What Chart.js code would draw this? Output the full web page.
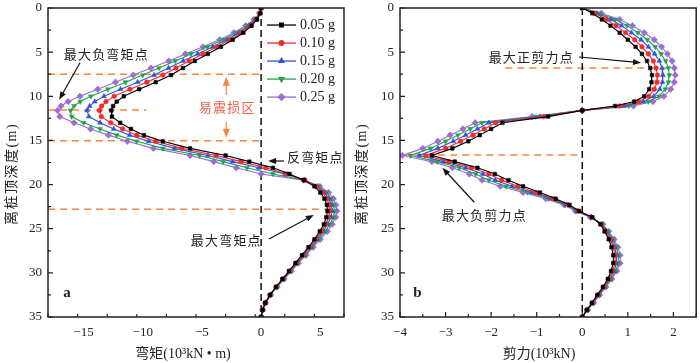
<!DOCTYPE html>
<html><head><meta charset="utf-8">
<script src="https://cdn.jsdelivr.net/npm/chart.js@4.4.0/dist/chart.umd.min.js"></script>
<style>
html,body{margin:0;padding:0;background:#fff;}
#wrap{position:relative;width:700px;height:363px;overflow:hidden;}
.c{position:absolute;top:0;width:350px;height:363px;}
</style></head><body>
<div id="wrap">
<div class="c" style="left:0"><canvas id="ca"></canvas></div>
<div class="c" style="left:350px"><canvas id="cb"></canvas></div>
</div>
<script>
// ---------- data ----------
const depth = [0, 0.6, 1.3, 2.0, 2.8, 3.6, 4.4, 5.2, 6.0, 6.8, 7.6, 8.4, 9.2, 10.0, 10.6, 11.1, 11.6, 12.3, 13.0, 13.7, 14.4, 15.1, 15.9, 16.7, 17.4, 18.1, 18.8, 19.5, 20.2, 20.9, 21.6, 22.3, 23.0, 23.7, 24.5, 25.3, 26.2, 27.1, 28.0, 28.9, 29.8, 30.7, 31.6, 32.5, 33.4, 34.2, 35.0];
const seriesLabels = ['0.05 g', '0.10 g', '0.15 g', '0.20 g', '0.25 g'];

const moment005 = [0, -0.07, -0.35, -0.8, -1.5, -2.4, -3.4, -4.5, -5.6, -6.6, -7.6, -8.9, -10.3, -11.6, -12.2, -12.5, -12.65, -12.6, -11.9, -11.0, -9.9, -8.3, -6.0, -3.0, -1.0, 1.0, 2.4, 3.6, 4.5, 5.0, 5.35, 5.55, 5.6, 5.5, 5.3, 4.95, 4.5, 4.0, 3.45, 2.9, 2.35, 1.8, 1.25, 0.75, 0.35, 0.12, 0];
const moment010 = [0, -0.09, -0.41, -0.91, -1.68, -2.64, -3.73, -4.92, -6.08, -7.19, -8.3, -9.65, -11.07, -12.41, -13.1, -13.47, -13.65, -13.5, -12.7, -11.7, -10.5, -8.9, -6.7, -3.8, -1.7, 0.4, 2.2, 3.7, 4.65, 5.2, 5.55, 5.75, 5.8, 5.7, 5.45, 5.1, 4.6, 4.1, 3.55, 2.95, 2.4, 1.83, 1.27, 0.76, 0.35, 0.12, 0];
const moment015 = [0, -0.11, -0.46, -1.03, -1.86, -2.9, -4.08, -5.36, -6.59, -7.82, -9.04, -10.43, -11.88, -13.27, -14.05, -14.48, -14.7, -14.55, -13.6, -12.45, -11.1, -9.5, -7.3, -4.5, -2.4, -0.2, 2.0, 3.7, 4.75, 5.35, 5.72, 5.92, 6.0, 5.9, 5.6, 5.25, 4.72, 4.2, 3.62, 3.0, 2.44, 1.86, 1.29, 0.77, 0.36, 0.12, 0];
const moment020 = [0, -0.13, -0.54, -1.18, -2.1, -3.23, -4.53, -5.93, -7.25, -8.63, -10.0, -11.45, -12.93, -14.38, -15.28, -15.8, -16.1, -16.0, -15.0, -13.6, -12.2, -10.5, -8.3, -5.2, -3.2, -1.2, 1.0, 3.65, 4.85, 5.5, 5.9, 6.12, 6.2, 6.1, 5.8, 5.42, 4.86, 4.3, 3.7, 3.06, 2.5, 1.9, 1.32, 0.78, 0.37, 0.13, 0];
const moment025 = [0, -0.15, -0.6, -1.3, -2.3, -3.5, -4.9, -6.4, -7.8, -9.3, -10.8, -12.3, -13.8, -15.3, -16.3, -16.9, -17.2, -17.0, -15.8, -14.4, -12.9, -11.3, -9.1, -6.0, -4.0, -2.1, 0.0, 3.6, 4.95, 5.7, 6.1, 6.32, 6.4, 6.3, 6.0, 5.6, 5.0, 4.4, 3.8, 3.15, 2.55, 1.95, 1.35, 0.8, 0.38, 0.13, 0];

const shear005 = [0, 0.22, 0.43, 0.62, 0.82, 1.0, 1.17, 1.31, 1.42, 1.49, 1.53, 1.52, 1.47, 1.36, 1.14, 0.72, 0, -0.75, -1.75, -2.0, -2.25, -2.5, -2.85, -3.3, -2.8, -2.3, -1.92, -1.62, -1.3, -0.93, -0.58, -0.28, -0.07, 0.22, 0.4, 0.49, 0.58, 0.64, 0.68, 0.68, 0.63, 0.56, 0.45, 0.33, 0.21, 0.1, 0];
const shear010 = [0, 0.27, 0.53, 0.74, 0.95, 1.15, 1.31, 1.45, 1.56, 1.62, 1.65, 1.64, 1.58, 1.46, 1.24, 0.82, 0, -0.85, -1.9, -2.15, -2.4, -2.67, -3.0, -3.44, -2.93, -2.43, -2.05, -1.77, -1.42, -1.02, -0.63, -0.31, -0.09, 0.21, 0.41, 0.51, 0.61, 0.68, 0.72, 0.72, 0.66, 0.58, 0.47, 0.34, 0.22, 0.1, 0];
const shear015 = [0, 0.32, 0.63, 0.86, 1.08, 1.29, 1.45, 1.59, 1.69, 1.75, 1.77, 1.76, 1.70, 1.57, 1.34, 0.92, 0, -0.93, -2.05, -2.3, -2.56, -2.83, -3.17, -3.58, -3.05, -2.56, -2.18, -1.91, -1.54, -1.11, -0.68, -0.34, -0.11, 0.2, 0.42, 0.53, 0.64, 0.71, 0.75, 0.75, 0.7, 0.6, 0.49, 0.36, 0.23, 0.11, 0];
const shear020 = [0, 0.37, 0.72, 0.98, 1.22, 1.43, 1.60, 1.73, 1.83, 1.89, 1.91, 1.89, 1.82, 1.68, 1.45, 1.02, 0, -1.02, -2.2, -2.46, -2.73, -3.0, -3.33, -3.77, -3.18, -2.7, -2.34, -2.05, -1.67, -1.2, -0.74, -0.37, -0.13, 0.19, 0.44, 0.56, 0.67, 0.75, 0.79, 0.79, 0.73, 0.63, 0.5, 0.37, 0.24, 0.11, 0];
const shear025 = [0, 0.42, 0.82, 1.1, 1.36, 1.58, 1.74, 1.87, 1.97, 2.02, 2.04, 2.02, 1.94, 1.79, 1.55, 1.12, 0, -1.1, -2.35, -2.62, -2.9, -3.17, -3.5, -3.95, -3.3, -2.85, -2.48, -2.2, -1.8, -1.3, -0.8, -0.4, -0.15, 0.18, 0.45, 0.58, 0.7, 0.78, 0.83, 0.83, 0.76, 0.65, 0.52, 0.38, 0.25, 0.12, 0];

const momentTicks = [-15, -10, -5, 0, 5];
const shearTicks = [-4, -3, -2, -1, 0, 1, 2];
const depthTicks = [0, 5, 10, 15, 20, 25, 30, 35];

// ---------- styles ----------
const colors = ['#000000', '#f22a2a', '#3152dc', '#22a24a', '#9d6cd4'];
const shapes = ['rect', 'circle', 'triangle', 'triangle', 'rectRot'];
const rotations = [0, 0, 0, 180, 0];
const radii = [2.5, 2.3, 2.8, 2.8, 3.2];
const SERIF = "'Liberation Serif','Noto Sans CJK SC',serif";
const CJK = "'Noto Sans CJK SC','Liberation Serif',sans-serif";

function makeDatasets(list) {
  return list.map((vals, i) => ({
    label: seriesLabels[i],
    data: vals.map((v, k) => ({ x: v, y: depth[k] })),
    borderColor: colors[i], backgroundColor: colors[i],
    borderWidth: 1.1, showLine: true, tension: 0,
    pointStyle: shapes[i], pointRotation: rotations[i], pointRadius: radii[i],
    pointBorderWidth: 0.6, pointHoverRadius: radii[i]
  }));
}

function fmt(v) { return v < 0 ? '\u2212' + Math.abs(v) : String(v); }

function arrow(ctx, x0, y0, x1, y1, color, hl, hw) {
  hl = hl || 8; hw = hw || 3;
  const ang = Math.atan2(y1 - y0, x1 - x0);
  ctx.save();
  ctx.strokeStyle = color; ctx.fillStyle = color; ctx.lineWidth = 1.2; ctx.setLineDash([]);
  ctx.beginPath(); ctx.moveTo(x0, y0);
  ctx.lineTo(x1 - Math.cos(ang) * hl * 0.8, y1 - Math.sin(ang) * hl * 0.8); ctx.stroke();
  ctx.translate(x1, y1); ctx.rotate(ang);
  ctx.beginPath(); ctx.moveTo(0, 0); ctx.lineTo(-hl, -hw); ctx.lineTo(-hl, hw); ctx.closePath(); ctx.fill();
  ctx.restore();
}

const decor = {
  id: 'decor',
  beforeDatasetsDraw(chart, args, o) {
    const ctx = chart.ctx, xs = chart.scales.x, ys = chart.scales.y, a = chart.chartArea;
    ctx.save();
    ctx.strokeStyle = '#f5883a'; ctx.lineWidth = 1.5; ctx.setLineDash([7, 5]);
    o.hlines.forEach(h => {
      ctx.beginPath();
      ctx.moveTo(xs.getPixelForValue(h.x0), ys.getPixelForValue(h.y));
      ctx.lineTo(xs.getPixelForValue(h.x1), ys.getPixelForValue(h.y));
      ctx.stroke();
    });
    ctx.strokeStyle = '#111'; ctx.lineWidth = 1.5; ctx.setLineDash([7, 4]);
    const x0 = xs.getPixelForValue(0);
    ctx.beginPath(); ctx.moveTo(x0, a.top); ctx.lineTo(x0, a.bottom); ctx.stroke();
    ctx.restore();
  },
  afterDatasetsDraw(chart, args, o) {
    const ctx = chart.ctx, xs = chart.scales.x, ys = chart.scales.y, a = chart.chartArea;
    const px = v => xs.getPixelForValue(v), py = v => ys.getPixelForValue(v);
    ctx.save();
    ctx.setLineDash([]);
    // frame
    ctx.strokeStyle = '#222'; ctx.lineWidth = 1.5;
    ctx.strokeRect(a.left, a.top, a.right - a.left, a.bottom - a.top);
    // inward ticks
    ctx.lineWidth = 1.2; ctx.beginPath();
    const nx = Math.round((xs.max - xs.min) / o.xMinor);
    for (let i = 0; i <= nx; i++) {
      const v = xs.min + i * o.xMinor;
      const r = v / o.xMajor, major = Math.abs(r - Math.round(r)) < 1e-6;
      const len = major ? 5 : 3;
      ctx.moveTo(px(v), a.bottom); ctx.lineTo(px(v), a.bottom - len);
    }
    for (let i = 0; i <= 14; i++) {
      const v = i * 2.5, major = i % 2 === 0, len = major ? 5 : 3;
      ctx.moveTo(a.left, py(v)); ctx.lineTo(a.left + len, py(v));
    }
    ctx.stroke();
    // tick labels
    ctx.fillStyle = '#222'; ctx.font = "13px " + SERIF;
    ctx.textAlign = 'center'; ctx.textBaseline = 'middle';
    o.xTicks.forEach(v => ctx.fillText(fmt(v), px(v), a.bottom + 16));
    ctx.textAlign = 'right';
    depthTicks.forEach(v => ctx.fillText(String(v), a.left - 6, py(v)));
    // axis titles
    ctx.font = "14px " + SERIF; ctx.textAlign = 'center';
    ctx.fillText(o.xTitle, o.xTitleX, 354);
    ctx.save(); ctx.translate(12, 174); ctx.rotate(-Math.PI / 2);
    ctx.letterSpacing = '1.5px';
    ctx.fillText('离桩顶深度(m)', 0, 0); ctx.restore();
    // panel letter
    ctx.font = "bold 15px " + SERIF; ctx.textAlign = 'center';
    ctx.fillText(o.letter.t, px(o.letter.x), py(o.letter.y));
    // annotation texts
    ctx.font = "13px " + CJK; ctx.letterSpacing = '1.2px';
    o.texts.forEach(t => { ctx.fillStyle = t.color || '#222'; ctx.fillText(t.t, px(t.x), py(t.y)); });
    ctx.letterSpacing = '0px';
    o.arrows.forEach(r => arrow(ctx, px(r.x0), py(r.y0), px(r.x1), py(r.y1), r.color || '#111', r.hl, r.hw));
    // legend
    if (o.legend) {
      const L = o.legend;
      chart.data.datasets.forEach((ds, i) => {
        const y = py(L.y0 + i * L.dy), x0 = px(L.x0), x1 = px(L.x1);
        ctx.strokeStyle = colors[i]; ctx.fillStyle = colors[i]; ctx.lineWidth = 1.3;
        ctx.beginPath(); ctx.moveTo(x0, y); ctx.lineTo(x1, y); ctx.stroke();
        Chart.helpers.drawPoint(ctx, { pointStyle: shapes[i], rotation: rotations[i], radius: radii[i], borderWidth: 0.6 }, (x0 + x1) / 2, y);
        ctx.fillStyle = '#222'; ctx.font = "14px " + SERIF; ctx.textAlign = 'left';
        ctx.fillText(ds.label, x1 + 4, y);
      });
    }
    ctx.restore();
  }
};

function makeChart(id, list, xmin, xmax, yw, padRight, opts) {
  return new Chart(document.getElementById(id), {
    type: 'scatter',
    data: { datasets: makeDatasets(list) },
    options: {
      responsive: true, maintainAspectRatio: false, animation: false, devicePixelRatio: 1,
      layout: { padding: { left: 0, right: padRight, top: 8, bottom: 0 } },
      scales: {
        x: { type: 'linear', min: xmin, max: xmax, grid: { display: false }, border: { display: false }, ticks: { display: false }, afterFit(s) { s.height = 46; } },
        y: { type: 'linear', min: 0, max: 35, reverse: true, grid: { display: false }, border: { display: false }, ticks: { display: false }, afterFit(s) { s.width = yw; } }
      },
      plugins: { legend: { display: false }, tooltip: { enabled: false }, decor: opts }
    },
    plugins: [decor]
  });
}

makeChart('ca', [moment005, moment010, moment015, moment020, moment025], -18, 7, 48, 6, {
  xMinor: 2.5, xMajor: 5, xTicks: momentTicks, xTitle: '弯矩(10³kN • m)', xTitleX: 183,
  letter: { t: 'a', x: -16.4, y: 32.3 },
  hlines: [{ y: 7.5, x0: -18, x1: 0 }, { y: 11.55, x0: -18, x1: -9.7 }, { y: 15.05, x0: -18, x1: 0 }, { y: 22.8, x0: -18, x1: 6.4 }],
  texts: [
    { t: '最大负弯矩点', x: -13.07, y: 5.2 },
    { t: '易震损区', x: -2.86, y: 11.2, color: '#f0604a' },
    { t: '反弯矩点', x: 4.58, y: 16.9 },
    { t: '最大弯矩点', x: -2.94, y: 26.3 }
  ],
  arrows: [
    { x0: -15.3, y0: 6.2, x1: -17.06, y1: 10.4 },
    { x0: 1.93, y0: 17.33, x1: 0.59, y1: 17.33 },
    { x0: 0.67, y0: 26.16, x1: 4.45, y1: 23.44 },
    { x0: -2.94, y0: 9.85, x1: -2.94, y1: 7.8, color: '#f5883a', hl: 9, hw: 3.5 },
    { x0: -2.94, y0: 12.9, x1: -2.94, y1: 14.7, color: '#f5883a', hl: 9, hw: 3.5 }
  ],
  legend: { x0: 0.5, x1: 2.94, y0: 1.93, dy: 2.04 }
});

makeChart('cb', [shear005, shear010, shear015, shear020, shear025], -4, 2.5, 50, 3, {
  xMinor: 0.5, xMajor: 1, xTicks: shearTicks, xTitle: '剪力(10³kN)', xTitleX: 189,
  letter: { t: 'b', x: -3.62, y: 32.3 },
  hlines: [{ y: 6.8, x0: -1.69, x1: 2.04 }, { y: 16.65, x0: -3.95, x1: 0 }],
  texts: [
    { t: '最大正剪力点', x: -1.12, y: 5.55 },
    { t: '最大负剪力点', x: -2.15, y: 23.4 }
  ],
  arrows: [
    { x0: -0.07, y0: 5.55, x1: 1.29, y1: 6.2 },
    { x0: -2.37, y0: 22.0, x1: -3.07, y1: 18.1 }
  ],
  legend: null
});
</script>
</body></html>
